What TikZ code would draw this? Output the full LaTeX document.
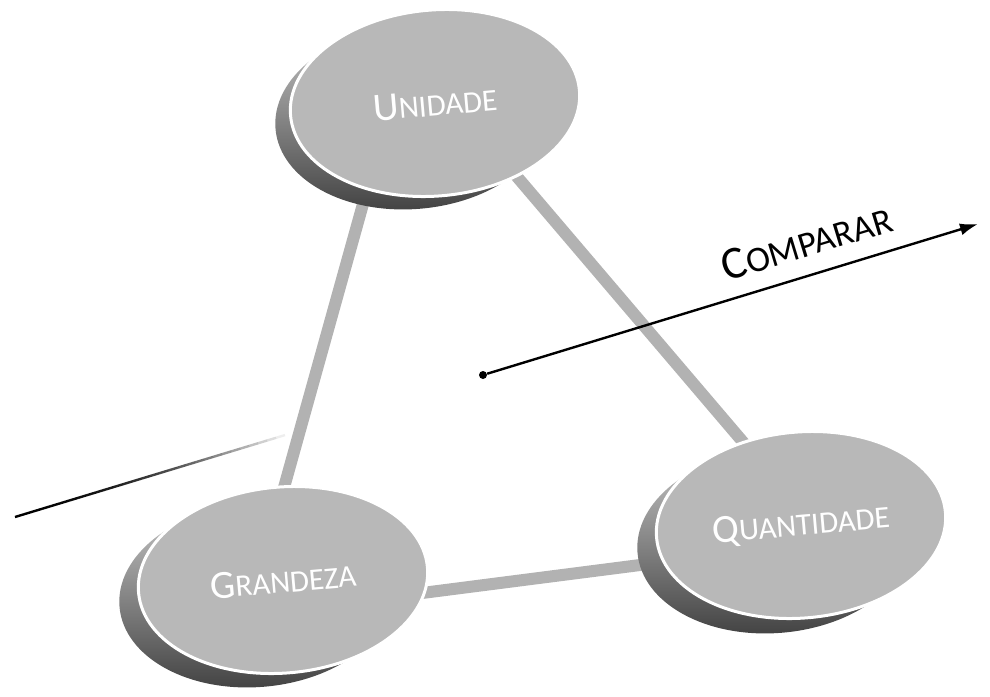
\documentclass[tikz,border=0pt]{standalone}
\usepackage{fontspec}
\setmainfont{Carlito}
\usetikzlibrary{shapes.geometric,arrows.meta,backgrounds,calc}
\tikzstyle{disc}=[ellipse,fill=black!28,draw=white,line width=1.5pt,minimum width=145pt,minimum height=93pt,inner sep=0pt,rotate=5,text=white]
\tikzstyle{discsh}=[ellipse,top color=black!20,bottom color=black!75,minimum width=138pt,minimum height=92pt,inner sep=0pt,rotate=5]
\tikzstyle{bar}=[line width=6pt,black!30,shorten <=-12pt,shorten >=-12pt]
\newcommand{\capword}[2]{{\fontsize{20}{20}\selectfont #1}{\fontsize{15.5}{15.5}\selectfont #2}}
\newcommand{\bigcapword}[2]{{\fontsize{23}{23}\selectfont #1}{\fontsize{18}{18}\selectfont #2}}

\begin{document}
\begin{tikzpicture}[x=0.5pt,y=-0.5pt]
    \useasboundingbox (0,0) rectangle (990,696);
    \node[disc] (unid) at (435,103) {\capword{U}{NIDADE}};
    \node[disc] (gran) at (283,580) {\capword{G}{RANDEZA}};
    \node[disc] (quan) at (801,525) {\capword{Q}{UANTIDADE}};

    \begin{pgfonlayer}{background}
    \draw[bar] (unid.227) -- (gran.84);
    \draw[bar] (unid.313) -- (quan.120);
    \draw[bar] (gran.350) -- (quan.190);
    \node[discsh] (unid-sh) at ($(unid)+(-22,14)$) {};
    \node[discsh] (gran-sh) at ($(gran)+(-26,15)$) {};
    \node[discsh] (quan-sh) at ($(quan)+(-26,16)$) {};
    \end{pgfonlayer}

    \node[circle,fill=black,inner sep=0pt,minimum size=4pt] (dot) at (483,375) {};
    \coordinate (tip) at (978,224);
    \coordinate (tail) at (15,517);
    \draw[line width=1.2pt,-{Latex[length=9pt,width=6pt]}] (dot) -- node[pos=0.67,sloped,above=5pt] {\bigcapword{C}{OMPARAR}} (tip);
    \foreach \i in {0,...,29}
    \draw[line width=1.2pt,black,opacity={1-(\i/30)^2}] ($(tail)!\i/52!(dot)$) -- ($(tail)!{(\i+1)/52}!(dot)$);
\end{tikzpicture}
\end{document}
